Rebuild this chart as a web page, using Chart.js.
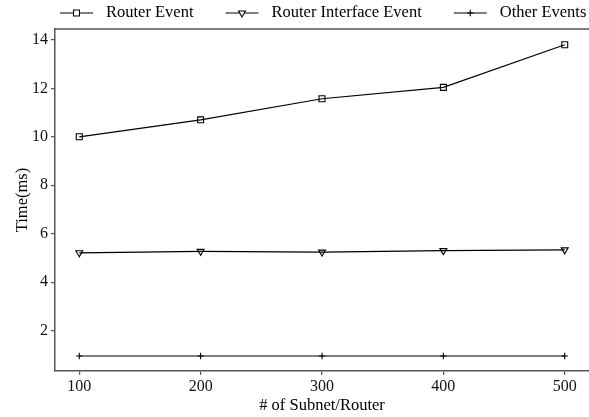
<!DOCTYPE html>
<html>
<head>
<meta charset="utf-8">
<script src="https://cdn.jsdelivr.net/npm/chart.js@4.4.0/dist/chart.umd.min.js"></script>
<style>
  html, body { margin: 0; padding: 0; background: #fff; }
  #wrap { width: 589px; height: 417px; }
</style>
</head>
<body>
<div id="wrap"><canvas id="chart"></canvas></div>
<script>
const subnets = [100, 200, 300, 400, 500];
const routerEvent = [10.0, 10.7, 11.57, 12.04, 13.8];
const routerIfaceEvent = [5.21, 5.27, 5.24, 5.30, 5.33];
const otherEvents = [0.95, 0.95, 0.95, 0.95, 0.95];
const xTicks = [100, 200, 300, 400, 500];
const yTicks = [2, 4, 6, 8, 10, 12, 14];

const FONT = 'Liberation Serif';
const AXIS_COLOR = '#555';

function series(label, values, pointStyle, radius, rotation) {
  return {
    label: label,
    data: values.map((v, i) => ({ x: subnets[i], y: v })),
    borderColor: '#000',
    borderWidth: 1.2,
    backgroundColor: 'rgba(0,0,0,0)',
    pointStyle: pointStyle,
    pointRadius: radius,
    pointRotation: rotation || 0,
    pointBorderColor: '#000',
    pointBorderWidth: 1.1,
    pointBackgroundColor: 'rgba(0,0,0,0)',
    tension: 0
  };
}

// top edge of the panel box (left/bottom come from the axis borders)
const panelTop = {
  id: 'panelTop',
  afterDraw(chart) {
    const { ctx, chartArea } = chart;
    ctx.save();
    ctx.strokeStyle = AXIS_COLOR;
    ctx.lineWidth = 1.5;
    ctx.beginPath();
    ctx.moveTo(chartArea.left, chartArea.top);
    ctx.lineTo(chart.width, chartArea.top);
    ctx.stroke();
    ctx.restore();
  }
};

// line + marker legend row above the panel
const lineLegend = {
  id: 'lineLegend',
  afterDraw(chart) {
    const ctx = chart.ctx;
    const y = 13;
    let x = 60;
    ctx.save();
    ctx.font = '16.5px "' + FONT + '"';
    ctx.textBaseline = 'middle';
    chart.data.datasets.forEach(ds => {
      ctx.strokeStyle = '#000';
      ctx.lineWidth = 1.2;
      ctx.beginPath();
      ctx.moveTo(x, y);
      ctx.lineTo(x + 33, y);
      ctx.stroke();
      ctx.lineWidth = ds.pointBorderWidth;
      ctx.fillStyle = '#fff';
      Chart.helpers.drawPoint(ctx, {
        pointStyle: ds.pointStyle,
        radius: ds.pointRadius,
        rotation: ds.pointRotation,
        borderWidth: ds.pointBorderWidth
      }, x + 16.5, y);
      ctx.fillStyle = '#000';
      x += 46;
      ctx.fillText(ds.label, x, y);
      x += ctx.measureText(ds.label).width + 32;
    });
    ctx.restore();
  }
};

new Chart(document.getElementById('chart'), {
  type: 'line',
  data: {
    datasets: [
      series('Router Event', routerEvent, 'rect', 4.2, 0),
      series('Router Interface Event', routerIfaceEvent, 'triangle', 4, 180),
      series('Other Events', otherEvents, 'cross', 3.2, 0)
    ]
  },
  options: {
    responsive: true,
    maintainAspectRatio: false,
    animation: false,
    layout: { autoPadding: false, padding: { top: 29, right: 0, left: 0, bottom: 0 } },
    plugins: {
      legend: { display: false },
      tooltip: { enabled: false }
    },
    scales: {
      x: {
        type: 'linear',
        min: 80,
        max: 520,
        afterBuildTicks: scale => { scale.ticks = xTicks.map(v => ({ value: v })); },
        afterFit: scale => { scale.height = 46; },
        grid: { drawOnChartArea: false, drawTicks: true, tickLength: 4, color: AXIS_COLOR, lineWidth: 1.2 },
        border: { color: AXIS_COLOR, width: 1.5 },
        ticks: { color: '#111', padding: 2, font: { family: FONT, size: 16 }, maxRotation: 0 },
        title: { display: true, text: '# of Subnet/Router', color: '#000', font: { family: FONT, size: 16.5 }, padding: { top: 0, bottom: 1 } }
      },
      y: {
        min: 0.33,
        max: 14.45,
        afterBuildTicks: scale => { scale.ticks = yTicks.map(v => ({ value: v })); },
        afterFit: scale => { scale.width = 55; },
        grid: { drawOnChartArea: false, drawTicks: true, tickLength: 4, color: AXIS_COLOR, lineWidth: 1.2 },
        border: { color: AXIS_COLOR, width: 1.5 },
        ticks: { color: '#111', padding: 3, font: { family: FONT, size: 16 } },
        title: { display: true, text: 'Time(ms)', color: '#000', font: { family: FONT, size: 16.5 }, padding: { top: 13, bottom: 0 } }
      }
    }
  },
  plugins: [panelTop, lineLegend]
});
</script>
</body>
</html>
